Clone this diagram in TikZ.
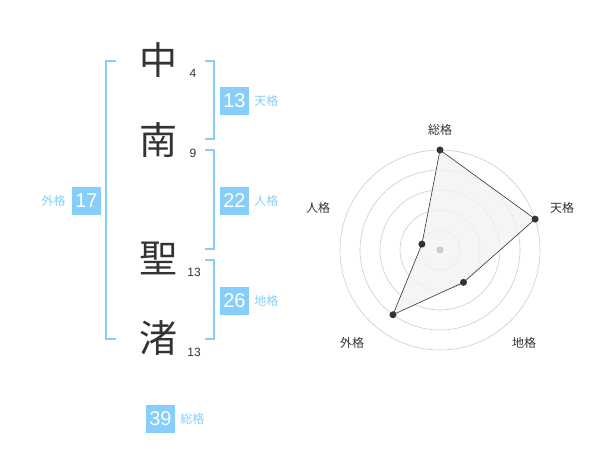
\documentclass[tikz,border=0pt]{standalone}
\usepackage{fontspec}
\setmainfont{Liberation Sans}
\newfontfamily\jpfont{Noto Sans CJK JP}
\usetikzlibrary{calc, positioning}
\definecolor{skyb}{RGB}{135,206,250}
\definecolor{ink}{RGB}{51,51,51}
\definecolor{ringc}{RGB}{204,204,204}
\definecolor{areac}{RGB}{242,242,242}

\begin{document}
\begin{tikzpicture}[
  x=1pt, y=1pt,
  kanji/.style={inner sep=0pt, text=ink, font=\jpfont\fontsize{38}{38}\selectfont},
  strokes/.style={inner sep=0pt, text=ink, font=\fontsize{12}{12}\selectfont},
  box/.style={fill=skyb, text=white, minimum width=29pt, minimum height=28pt, inner sep=0pt, font=\fontsize{20}{20}\selectfont},
  kaku/.style={inner sep=0pt, text=skyb, font=\jpfont\fontsize{12}{12}\selectfont},
  brace/.style={draw=skyb, line width=1.6pt},
  ring/.style={draw=ringc, line width=0.6pt},
  axlab/.style={inner sep=0pt, text=ink, font=\jpfont\fontsize{12}{12}\selectfont},
  dot/.style={fill=ink}
]
  \useasboundingbox (0,0) rectangle (600,-470);

  % name characters and stroke counts
  \node[kanji] (k1) at (158,-60) {中};
  \node[kanji] (k2) at (158,-140) {南};
  \node[kanji] (k3) at (158,-258) {聖};
  \node[kanji] (k4) at (158,-338) {渚};
  \node[strokes] (n1) at (193,-73) {4};
  \node[strokes] (n2) at (193,-153) {9};
  \node[strokes] (n3) at (194,-272) {13};
  \node[strokes] (n4) at (194,-352) {13};

  % brackets
  \draw[brace] (116,-61) -- (106,-61) -- (106,-339) -- (116,-339);
  \draw[brace] (205,-61) -- (214,-61) -- (214,-139) -- (205,-139);
  \draw[brace] (205,-150) -- (214,-150) -- (214,-249) -- (205,-249);
  \draw[brace] (205,-260) -- (214,-260) -- (214,-339) -- (205,-339);

  % scores
  \node[box] (ten) at (234.5,-101) {13};
  \node[kaku, right=5pt of ten] (tenl) {天格};
  \node[box] (jin) at (234.5,-201) {22};
  \node[kaku, right=5pt of jin] (jinl) {人格};
  \node[box] (chi) at (234.5,-301) {26};
  \node[kaku, right=5pt of chi] (chil) {地格};
  \node[box] (gai) at (86.5,-201) {17};
  \node[kaku, left=6pt of gai] (gail) {外格};
  \node[box] (sou) at (160.5,-419) {39};
  \node[kaku, right=5pt of sou] (soul) {総格};

  % radar chart
  \coordinate (c) at (440,-250);
  \foreach \r in {20,40,60,80,100}
    \draw[ring] (c) circle[radius=\r pt];

  \coordinate (ps) at ($(c)+(90:100pt)$);
  \coordinate (pt) at ($(c)+(18:100pt)$);
  \coordinate (pc) at ($(c)+(-54:40pt)$);
  \coordinate (pg) at ($(c)+(-126:80pt)$);
  \coordinate (pj) at ($(c)+(162:19pt)$);
  \filldraw[fill=areac, fill opacity=0.8, draw=ink, line width=0.6pt]
    (ps) -- (pt) -- (pc) -- (pg) -- (pj) -- cycle;
  \fill[ringc] (c) circle[radius=3.5pt];
  \foreach \p in {ps,pt,pc,pg,pj}
    \fill[dot] (\p) circle[radius=3.5pt];

  \node[axlab] (ls) at (440,-130) {総格};
  \node[axlab] (lt) at (562,-208) {天格};
  \node[axlab] (lc) at (524,-343) {地格};
  \node[axlab] (lg) at (352,-343) {外格};
  \node[axlab] (lj) at (318,-208) {人格};
\end{tikzpicture}
\end{document}
